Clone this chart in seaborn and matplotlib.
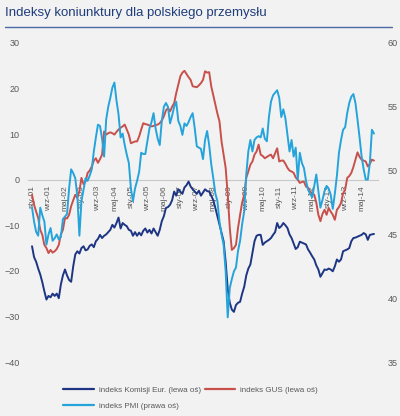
import matplotlib
matplotlib.use("Agg")
import matplotlib.pyplot as plt
from matplotlib.lines import Line2D
import seaborn as sns
import pandas as pd

title = "Indeksy koniunktury dla polskiego przemysłu"

# monthly values, Jan 2001 .. Nov 2014
ec = [-14.6, -17, -18, -19.5, -20.8, -22.5, -24.5, -26.3, -25.5, -25.8,
      -25, -25.5, -25, -26, -23, -21, -19.7, -21, -22, -22.4,
      -19, -16.4, -15.7, -16.2, -15, -14.6, -15.5, -15.3, -14.5, -14.2,
      -14.8, -13.5, -13, -12.1, -12.8, -12.3, -12, -11.5, -11, -9.9,
      -10.5, -9.5, -8.3, -10.7, -9.5, -9.9, -10.2, -11, -11.2, -12.3,
      -11.5, -12.3, -11.6, -12.2, -11.2, -10.7, -11.6, -11.0, -11.8, -10.7,
      -11.5, -12.3, -11, -9.1, -8, -6.2, -6, -5.5, -4.5, -2.6,
      -3.5, -2.1, -2.6, -3.1, -1.7, -1.2, -0.4, -1.5, -2.1, -2.6,
      -3.1, -2.4, -3.5, -2.8, -2.1, -2.5, -2.6, -3.5, -4.5, -6.2,
      -8, -9.9, -11.5, -13.5, -18, -24, -27, -28.5, -29, -27.5,
      -27, -26.8, -25, -23.5, -21, -19.5, -18.6, -16, -13.5, -12.3,
      -12.1, -12.1, -14.3, -13.8, -13.5, -13.2, -12.8, -12.1, -11.5, -9.5,
      -10.6, -10.2, -9.5, -10, -10.6, -12, -12.8, -14, -15.2, -14.8,
      -13.6, -13.8, -14, -14.2, -15.3, -16, -16.8, -17.5, -18.8, -19.7,
      -21.3, -20.5, -19.7, -19.8, -19.5, -19.7, -20.1, -19, -17.5, -18,
      -17.5, -15.7, -15.5, -15.3, -15.0, -13.5, -12.8, -12.7, -12.5, -12.3,
      -12.1, -11.7, -12, -13.2, -12.1, -12, -11.9]

gus = [-3.3, -5.5, -7, -8.4, -11, -12.1, -14.3, -15, -16.1, -15.4,
       -16, -15.7, -15.2, -14.3, -12, -11, -8.4, -8.5, -7.7, -5.8,
       -4.5, -3.3, -4.0, -2.5, 0.4, -1, -0.4, 1.5, 2, 2.9,
       4.2, 4.7, 3.7, 4.5, 5.5, 10.6, 9.9, 10.2, 10.4, 10.2,
       9.9, 10.5, 11, 11.4, 11.7, 12.1, 11, 9.9, 8.0, 8.2,
       8.4, 8.4, 9.5, 11, 12.4, 12.2, 12.1, 11.9, 11.7, 11.8,
       12, 12.1, 12.4, 13, 13.9, 15.2, 15.7, 15.0, 16, 16.8,
       19, 20.8, 22.7, 23.5, 23.9, 23.2, 22.5, 21.9, 20.5, 20.4,
       20.3, 20.7, 21.2, 21.9, 23.8, 23.5, 23.6, 20.5, 18.5, 16.4,
       14.5, 12.8, 8.4, 5.5, 2.6, -3.3, -10.6, -15.4, -15, -14.3,
       -10.6, -7.7, -5, -3.3, 0.4, 1.8, 3.3, 4, 5.5, 6.2,
       7.7, 5.5, 5.2, 4.7, 5, 5.3, 5.5, 4.7, 5.8, 6.9,
       4.0, 4.2, 4.2, 3.5, 2.6, 2, 1.8, 1.5, 0.5, 0,
       -0.7, -0.5, -0.4, -1.5, -1.8, -2.6, -3, -3.3, -5, -7.7,
       -9.1, -7.5, -6.6, -7.7, -6.2, -7, -7.7, -8.8, -6.6, -6,
       -5.1, -3, -2.2, 0.4, 0.8, 1.5, 2.8, 4.4, 6.0, 5,
       4.4, 4.2, 4.0, 2.9, 3.5, 4.4, 4.2]

pmi = [47.1, 46.0, 45.2, 44.9, 47.1, 46.5, 46.0, 44.2, 45, 45.5,
       44.5, 44.7, 45.0, 44.6, 44.8, 46.2, 46.4, 46.6, 48.6, 50.1,
       49.8, 49.4, 48.0, 44.9, 47.6, 48.5, 49.4, 49.2, 49.6, 50.1,
       51.5, 52.6, 53.6, 53.5, 52.5, 51.1, 54.0, 55, 55.7, 56.5,
       56.9, 55.5, 54.4, 52.6, 52.9, 52, 51.25, 50.6, 48.6, 47.6,
       48.6, 49.2, 49.9, 51.4, 51.3, 51.3, 52.3, 53.3, 53.8, 54.5,
       53.3, 52.5, 52.0, 53.9, 55.0, 55.3, 55.0, 53.7, 54.3, 55.0,
       55.4, 53.9, 53.5, 52.8, 53.7, 53.5, 53.8, 54.2, 54.5, 53.3,
       51.9, 51.8, 51.7, 50.9, 52.4, 53.1, 52.0, 50.5, 49.4, 48.2,
       47.6, 46.0, 45, 44.2, 42.1, 38.5, 40.8, 41.5, 42.1, 42.4,
       43.7, 44.5, 45.8, 46.8, 49.7, 51.5, 52.4, 51.5, 52.4, 52.6,
       52.7, 52.6, 53.3, 52.5, 52.3, 54.2, 55.4, 55.9, 56.1, 56.3,
       55.7, 54.2, 54.8, 54.1, 52.8, 51.5, 52.4, 51.1, 51.8, 49.3,
       51.4, 50.6, 50.2, 49.2, 48.5, 48.2, 47.9, 48.8, 49.7, 48.4,
       47.1, 47.7, 48.4, 48.8, 48.6, 48.1, 47.0, 48.2, 49.6, 51.4,
       52.4, 53.2, 53.4, 54.5, 55.3, 55.8, 56.0, 55.3, 54.0, 52.6,
       51.1, 50.1, 49.3, 49.3, 50.6, 53.2, 52.9]

xtick_labels = ["sty-01", "wrz-01", "maj-02", "sty-03", "wrz-03", "maj-04",
                "sty-05", "wrz-05", "maj-06", "sty-07", "wrz-07", "maj-08",
                "sty-09", "wrz-09", "maj-10", "sty-11", "wrz-11", "maj-12",
                "sty-13", "wrz-13", "maj-14"]
left_ticks = [-40, -30, -20, -10, 0, 10, 20, 30]
right_ticks = [35, 40, 45, 50, 55, 60]
series_names = ["indeks Komisji Eur. (lewa oś)", "indeks GUS (lewa oś)",
                "indeks PMI (prawa oś)"]

C_EC = "#1d3583"
C_GUS = "#c8504b"
C_PMI = "#25a4dc"
GREY = "#595959"
BG = "#f2f2f2"

sns.set_style("white")
FONT = ["Liberation Sans Narrow", "Liberation Sans", "DejaVu Sans"]
plt.rcParams["font.family"] = FONT

df = pd.DataFrame({"m": range(len(ec)), "ec": ec, "gus": gus, "pmi": pmi})

fig = plt.figure(figsize=(4.0, 4.16), dpi=100, facecolor=BG)
ax = fig.add_axes([0.07, 1 - 362 / 416, 0.875, (362 - 43) / 416])
ax.set_facecolor(BG)
ax.set_axisbelow(True)
ax2 = ax.twinx()

sns.lineplot(data=df, x="m", y="ec", ax=ax, color=C_EC, lw=1.4, legend=False)
sns.lineplot(data=df, x="m", y="gus", ax=ax, color=C_GUS, lw=1.4, legend=False)
sns.lineplot(data=df, x="m", y="pmi", ax=ax2, color=C_PMI, lw=1.4, legend=False)

ax.set_ylim(-40, 30)
ax2.set_ylim(35, 60)
ax.set_xlim(-1.95, len(ec) - 1 + 1.95)
ax.set_yticks(left_ticks)
ax2.set_yticks(right_ticks)
ax.set_xlabel("")
ax.set_ylabel("")
ax2.set_ylabel("")

for a in (ax, ax2):
    for s in a.spines.values():
        s.set_visible(False)
ax.spines["bottom"].set_visible(True)
ax.spines["bottom"].set_position(("data", 0))
ax.spines["bottom"].set_color("#c8c8c8")
ax.spines["bottom"].set_linewidth(0.8)
ax.spines["bottom"].set_zorder(0.5)

ax.tick_params(axis="y", length=0, labelsize=6.5, labelcolor=GREY, pad=6)
ax2.tick_params(axis="y", length=0, labelsize=6.5, labelcolor=GREY, pad=7)
ax.tick_params(axis="x", length=3, width=0.6, color="#c8c8c8",
               labelsize=6, labelcolor=GREY, pad=1, direction="out",
               labelrotation=90)
ax.set_xticks(list(range(0, 8 * len(xtick_labels), 8)))
ax.set_xticklabels(xtick_labels)
for t in ax.get_xticklabels():
    t.set_rotation(90)
    t.set_ha("center")
    t.set_va("top")

fig.text(5 / 400, 1 - 13 / 416, title, fontsize=9.5, color="#1f3d7a",
         va="center", ha="left")
fig.add_artist(Line2D([5 / 400, 392 / 400], [1 - 27 / 416, 1 - 27 / 416],
                      transform=fig.transFigure, color="#4a6aa5", lw=1.0))

handles = [Line2D([], [], color=C_EC, lw=1.6),
           Line2D([], [], color=C_PMI, lw=1.6),
           Line2D([], [], color=C_GUS, lw=1.6)]
labels = [series_names[0], series_names[2], series_names[1]]
leg = fig.legend(handles, labels, ncol=2, loc="upper left",
                 bbox_to_anchor=(60 / 400, 1 - 383 / 416), frameon=False,
                 fontsize=5.8, handlelength=3.8, handletextpad=0.6,
                 columnspacing=0.5, labelspacing=1.0, borderaxespad=0)
for t in leg.get_texts():
    t.set_color(GREY)

fig.savefig("out.png", dpi=100, facecolor=BG)
